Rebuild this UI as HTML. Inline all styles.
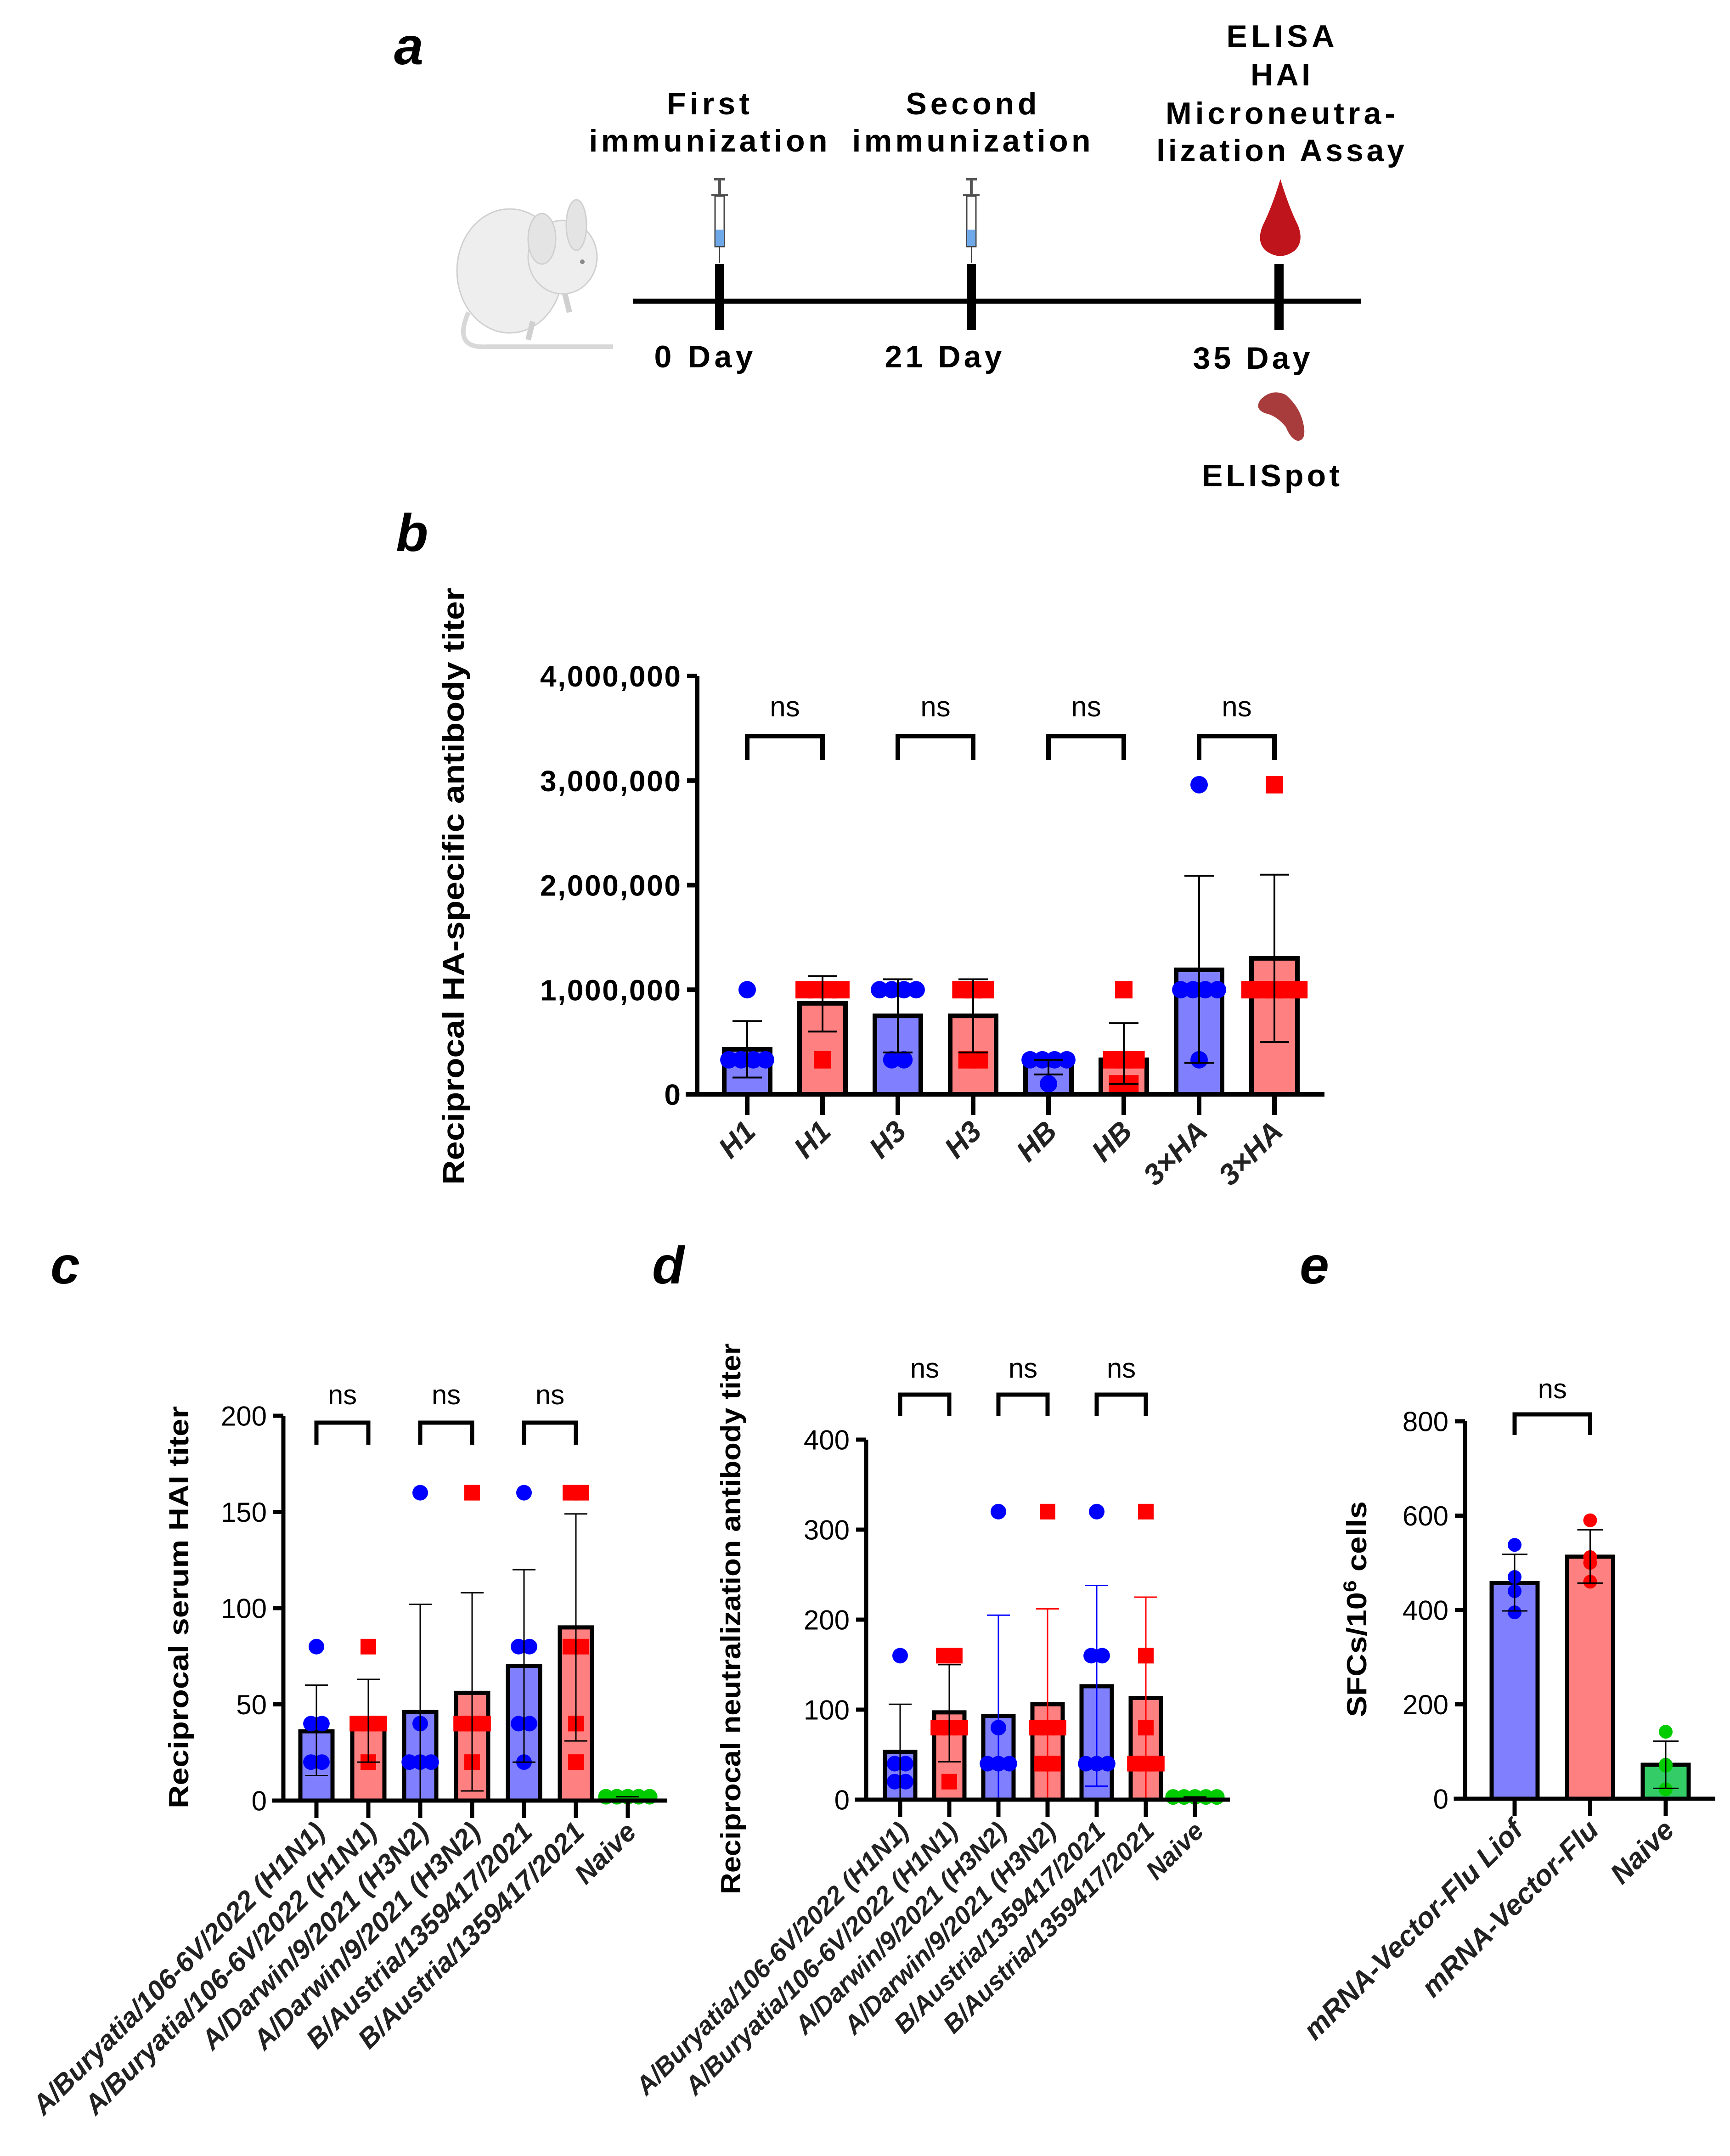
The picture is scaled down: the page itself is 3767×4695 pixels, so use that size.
<!DOCTYPE html>
<html><head><meta charset="utf-8">
<style>
html,body{margin:0;padding:0;background:#fff;}
svg{display:block;}
text{font-family:"Liberation Sans",sans-serif;}
</style></head>
<body>
<svg id="fig" xmlns="http://www.w3.org/2000/svg" width="3767" height="4695" viewBox="0 0 3767 4695">
<rect width="3767" height="4695" fill="#fff"/>
<g font-family="Liberation Serif, serif" font-weight="bold" font-style="italic" font-size="115">
<text x="858" y="140">a</text>
<text x="862" y="1200">b</text>
<text x="110" y="2795">c</text>
<text x="1420" y="2795">d</text>
<text x="2830" y="2795">e</text>
</g>
<g>
<g fill="#eeeeee" stroke="#d0d0d0" stroke-width="3">
<path d="M1020 680 Q985 760 1060 755 L1335 755" fill="none" stroke="#d8d8d8" stroke-width="10"/>
<ellipse cx="1110" cy="590" rx="115" ry="135"/>
<ellipse cx="1225" cy="560" rx="75" ry="80"/>
<ellipse cx="1255" cy="490" rx="22" ry="55" fill="#e4e4e4"/>
<ellipse cx="1180" cy="520" rx="30" ry="55" fill="#e4e4e4"/>
<circle cx="1268" cy="570" r="5" fill="#888" stroke="none"/>
<path d="M1160 700 L1150 740 M1230 640 L1240 680" stroke="#d0d0d0" stroke-width="12"/>
</g>
<line x1="1378" y1="656" x2="2963" y2="656" stroke="#000" stroke-width="11"/>
<line x1="1567" y1="575" x2="1567" y2="719" stroke="#000" stroke-width="20"/>
<line x1="2115" y1="575" x2="2115" y2="719" stroke="#000" stroke-width="20"/>
<line x1="2785" y1="575" x2="2785" y2="719" stroke="#000" stroke-width="20"/>
<g transform="translate(1567,0)">
<rect x="-12" y="388" width="24" height="5" fill="#555"/><rect x="-3" y="393" width="6" height="30" fill="#555"/>
<rect x="-18" y="422" width="36" height="5" fill="#555"/>
<rect x="-10" y="427" width="20" height="110" fill="#fff" stroke="#444" stroke-width="3"/>
<rect x="-9" y="500" width="18" height="36" fill="#6fa8e8"/>
<line x1="0" y1="537" x2="0" y2="572" stroke="#444" stroke-width="2"/></g>
<g transform="translate(2115,0)">
<rect x="-12" y="388" width="24" height="5" fill="#555"/><rect x="-3" y="393" width="6" height="30" fill="#555"/>
<rect x="-18" y="422" width="36" height="5" fill="#555"/>
<rect x="-10" y="427" width="20" height="110" fill="#fff" stroke="#444" stroke-width="3"/>
<rect x="-9" y="500" width="18" height="36" fill="#6fa8e8"/>
<line x1="0" y1="537" x2="0" y2="572" stroke="#444" stroke-width="2"/></g>
<path d="M2788 390 Q2770 450 2750 490 Q2735 525 2755 545 Q2788 570 2820 545 Q2840 525 2826 490 Q2806 450 2788 390 Z" fill="#c0141c"/>
<path d="M2745 870 Q2770 845 2800 860 Q2835 890 2840 935 Q2842 960 2825 960 Q2810 955 2800 930 Q2780 905 2755 900 Q2730 890 2745 870 Z" fill="#a83c3c"/>
<g font-weight="bold" font-size="68" text-anchor="middle" fill="#000">
<text><tspan x="1542" y="249" textLength="180">First</tspan><tspan x="1542" y="330" textLength="519">immunization</tspan></text>
<text><tspan x="2115" y="249" textLength="285">Second</tspan><tspan x="2115" y="330" textLength="519">immunization</tspan></text>
<text><tspan x="2788" y="102" textLength="235">ELISA</tspan><tspan x="2788" y="186" textLength="130">HAI</tspan><tspan x="2788" y="270" textLength="500">Microneutra-</tspan><tspan x="2788" y="351" textLength="540">lization Assay</tspan></text>
<text x="1532" y="800" textLength="215">0 Day</text>
<text x="2054" y="800" textLength="255">21 Day</text>
<text x="2725" y="803" textLength="255">35 Day</text>
<text x="2767" y="1059" textLength="300">ELISpot</text>
</g>
</g>
<g id="charts"></g>
</svg>
<script>
const bCategories = ['H1','H1','H3','H3','HB','HB','3×HA','3×HA'];
const bGroups = ['b','r','b','r','b','r','b','r'];
const bMeans = [430000, 870000, 750000, 750000, 320000, 330000, 1190000, 1300000];
const bUpper = [700000, 1130000, 1100000, 1100000, 330000, 680000, 2090000, 2100000];
const bLower = [160000, 600000, 400000, 400000, 190000, 100000, 300000, 500000];
const bPoints = [
  [1000000, 330000, 330000, 330000, 330000],
  [1000000, 1000000, 1000000, 1000000, 330000],
  [1000000, 1000000, 1000000, 1000000, 330000, 330000],
  [1000000, 1000000, 1000000, 330000, 330000],
  [330000, 330000, 330000, 330000, 100000],
  [1000000, 330000, 330000, 330000, 100000, 100000],
  [2960000, 1000000, 1000000, 1000000, 1000000, 330000],
  [2960000, 1000000, 1000000, 1000000, 1000000, 1000000]
];
const bTicks = [0, 1000000, 2000000, 3000000, 4000000];
const bTickLabels = ['0', '1,000,000', '2,000,000', '3,000,000', '4,000,000'];
const bPairs = [[0,1],[2,3],[4,5],[6,7]];

const cCategories = ['A/Buryatia/106-6V/2022 (H1N1)','A/Buryatia/106-6V/2022 (H1N1)','A/Darwin/9/2021 (H3N2)','A/Darwin/9/2021 (H3N2)','B/Austria/1359417/2021','B/Austria/1359417/2021','Naive'];
const cGroups = ['b','r','b','r','b','r','g'];
const cMeans = [36, 40, 46, 56, 70, 90, 2];
const cUpper = [60, 63, 102, 108, 120, 149, 2];
const cLower = [13, 20, 0, 5, 20, 31, 2];
const cPoints = [
  [80, 40, 40, 20, 20],
  [80, 40, 40, 40, 20],
  [160, 40, 20, 20, 20],
  [160, 40, 40, 40, 20],
  [160, 80, 80, 40, 40, 20],
  [160, 160, 80, 80, 40, 20],
  [2, 2, 2, 2, 2]
];
const cTicks = [0, 50, 100, 150, 200];
const cTickLabels = ['0', '50', '100', '150', '200'];
const cPairs = [[0,1],[2,3],[4,5]];

const dCategories = cCategories.slice();
const dGroups = ['b','r','b','r','b','r','g'];
const dMeans = [53, 97, 93, 106, 126, 113, 3];
const dUpper = [106, 150, 205, 212, 238, 225, 3];
const dLower = [0, 42, 0, 0, 15, 0, 3];
const dPoints = [
  [160, 40, 40, 20, 20],
  [160, 160, 80, 80, 80, 20],
  [320, 80, 40, 40, 40],
  [320, 80, 80, 80, 40, 40],
  [320, 160, 160, 40, 40, 40],
  [320, 160, 80, 40, 40, 40],
  [3, 3, 3, 3, 3]
];
const dTicks = [0, 100, 200, 300, 400];
const dTickLabels = ['0', '100', '200', '300', '400'];
const dPairs = [[0,1],[2,3],[4,5]];

const eCategories = ['mRNA-Vector-Flu Liof','mRNA-Vector-Flu','Naive'];
const eGroups = ['b','r','g'];
const eMeans = [457, 513, 72];
const eUpper = [518, 570, 122];
const eLower = [398, 457, 22];
const ePoints = [
  [538, 470, 440, 395],
  [590, 512, 500, 460],
  [142, 72, 70, 20]
];
const eTicks = [0, 200, 400, 600, 800];
const eTickLabels = ['0', '200', '400', '600', '800'];
const ePairs = [[0,1]];

const NS = 'http://www.w3.org/2000/svg';
const root = document.getElementById('charts');
const FILL = {b:'#8080ff', r:'#ff8080', g:'#33cc66'};
const MARK = {b:'#0000ff', r:'#ff0000', g:'#00cc00'};
function mk(tag, attrs, parent){
  const e = document.createElementNS(NS, tag);
  for (const k in attrs) e.setAttribute(k, attrs[k]);
  parent.appendChild(e);
  return e;
}

function drawChart(p){
  const g = mk('g', {}, root);
  
  
  const yScale = v => p.y0 - (v / p.yMax) * (p.y0 - p.yTop);
  const xScale = i => p.x0 + p.step * i;
  p.means.forEach((m, i) => {
    const x = xScale(i), y = yScale(m);
    const r = mk('rect', {x: x - p.bw/2, y: y, width: p.bw, height: p.y0 - y, fill: FILL[p.groups[i]], stroke: '#000', 'stroke-width': p.sw}, g);
    
    
  });
  p.points.forEach((pts, i) => {
    const cx = xScale(i);
    const counts = {};
    pts.forEach(v => counts[v] = (counts[v] || 0) + 1);
    const seen = {};
    pts.forEach(v => {
      const n = counts[v]; const k = seen[v] || 0; seen[v] = k + 1;
      const off = (k - (n - 1) / 2) * p.mr * 1.4;
      const px = cx + off, py = yScale(v);
      let m;
      if (p.groups[i] === 'r' && p.squares) {
        m = mk('rect', {x: px - p.mr, y: py - p.mr, width: 2*p.mr, height: 2*p.mr, fill: MARK.r}, g);
      } else {
        m = mk('circle', {cx: px, cy: py, r: p.mr, fill: MARK[p.groups[i]]}, g);
      }
      
      
    });
  });
  p.means.forEach((m, i) => {
    const x = xScale(i);
    const col = p.errColor ? p.errColor(i) : '#000';
    const eg = mk('g', {stroke: col, 'stroke-width': p.ew}, g);
    
    
    mk('line', {x1: x, y1: yScale(p.upper[i]), x2: x, y2: yScale(p.lower[i])}, eg);
    mk('line', {x1: x - p.cap, y1: yScale(p.upper[i]), x2: x + p.cap, y2: yScale(p.upper[i])}, eg);
    mk('line', {x1: x - p.cap, y1: yScale(p.lower[i]), x2: x + p.cap, y2: yScale(p.lower[i])}, eg);
  });
  const ya = mk('line', {x1: p.axisX, y1: p.y0 + p.sw/2, x2: p.axisX, y2: p.yTop, stroke: '#000', 'stroke-width': p.sw}, g);
  
  
  const xa = mk('line', {x1: p.axisX - p.sw/2 - 20, y1: p.y0, x2: p.xEnd, y2: p.y0, stroke: '#000', 'stroke-width': p.sw}, g);
  
  
  p.ticks.forEach((t, k) => {
    const y = yScale(t);
    mk('line', {x1: p.axisX - 22, y1: y, x2: p.axisX, y2: y, stroke: '#000', 'stroke-width': p.sw}, g);
    const tl = mk('text', {x: p.axisX - 36, y: y + p.tfs*0.36, 'text-anchor': 'end', 'font-size': p.tfs, 'font-weight': p.tickBold ? 'bold' : 'normal'}, g);
    if (p.tickLen) tl.setAttribute('textLength', p.tickLen * p.tickLabels[k].length);
    tl.textContent = p.tickLabels[k];
    
    
  });
  p.cats.forEach((c, i) => {
    const x = xScale(i);
    mk('line', {x1: x, y1: p.y0, x2: x, y2: p.y0 + p.xtl, stroke: '#000', 'stroke-width': p.sw}, g);
    const lx = x + p.lxOff, ly = p.y0 + p.lyOff;
    const t = mk('text', {x: lx, y: ly, 'text-anchor': 'end', 'font-size': p.xfs, 'font-weight': 'bold', 'font-style': 'italic', fill: '#222', transform: 'rotate(-45 ' + lx + ' ' + ly + ')'}, g);
    t.textContent = c;
    
    
  });
  p.pairs.forEach(pr => {
    const xa1 = xScale(pr[0]), xb1 = xScale(pr[1]);
    const br = mk('path', {d: 'M' + xa1 + ' ' + p.brLeg + ' V' + p.brTop + ' H' + xb1 + ' V' + p.brLeg, fill: 'none', stroke: '#000', 'stroke-width': p.sw}, g);
    
    
    const ns = mk('text', {x: (xa1 + xb1)/2, y: p.nsY, 'text-anchor': 'middle', 'font-size': p.nsfs}, g);
    ns.textContent = 'ns';
    
    
  });
  const tt = mk('text', {x: p.titleX, y: p.titleY, 'text-anchor': 'middle', 'font-size': p.titleFs, 'font-weight': 'bold', transform: 'rotate(-90 ' + p.titleX + ' ' + p.titleY + ')', textLength: p.titleLen, lengthAdjust: 'spacingAndGlyphs'}, g);
  
  
  if (p.titleHtml) p.titleHtml(tt); else tt.textContent = p.title;
}

drawChart({name:'chart-b-ha-titer', cats:bCategories, groups:bGroups, means:bMeans, upper:bUpper, lower:bLower, points:bPoints,
  ticks:bTicks, tickLabels:bTickLabels, pairs:bPairs, yMax:4000000, y0:2383, yTop:1472, axisX:1518, xEnd:2884,
  x0:1627, step:164, bw:100, sw:10, mr:19, squares:true, ew:4, cap:32, tfs:64, tickBold:true, tickLen:34,
  xtl:45, lxOff:22, lyOff:85, xfs:64, brTop:1603, brLeg:1655, nsY:1560, nsfs:62,
  titleX:1010, titleY:1930, titleFs:66, titleLen:1300, title:'Reciprocal HA-specific antibody titer'});

drawChart({name:'chart-c-hai-titer', cats:cCategories, groups:cGroups, means:cMeans, upper:cUpper, lower:cLower, points:cPoints,
  ticks:cTicks, tickLabels:cTickLabels, pairs:cPairs, yMax:200, y0:3921, yTop:3083, axisX:617, xEnd:1453,
  x0:689, step:113, bw:70, sw:9, mr:17, squares:true, ew:3, cap:25, tfs:60, tickBold:false, tickLen:0,
  xtl:38, lxOff:22, lyOff:72, xfs:60, brTop:3098, brLeg:3146, nsY:3058, nsfs:60,
  titleX:410, titleY:3500, titleFs:60, titleLen:876, title:'Reciprocal serum HAI titer'});

drawChart({name:'chart-d-neutralization-titer', cats:dCategories, groups:dGroups, means:dMeans, upper:dUpper, lower:dLower, points:dPoints,
  ticks:dTicks, tickLabels:dTickLabels, pairs:dPairs, yMax:400, y0:3919, yTop:3135, axisX:1886, xEnd:2678,
  x0:1960, step:107, bw:66, sw:9, mr:17, squares:true, ew:3, cap:25, tfs:60, tickBold:false, tickLen:0,
  xtl:38, lxOff:22, lyOff:72, xfs:56, brTop:3037, brLeg:3083, nsY:3000, nsfs:60,
  errColor: i => (i >= 2 && i <= 5) ? (i % 2 === 0 ? '#0000ff' : '#ff0000') : '#000',
  titleX:1612, titleY:3525, titleFs:60, titleLen:1200, title:'Reciprocal neutralization antibody titer'});

drawChart({name:'chart-e-elispot', cats:eCategories, groups:eGroups, means:eMeans, upper:eUpper, lower:eLower, points:ePoints,
  ticks:eTicks, tickLabels:eTickLabels, pairs:ePairs, yMax:800, y0:3917, yTop:3095, axisX:3190, xEnd:3735,
  x0:3298, step:164.5, bw:100, sw:9, mr:15, squares:false, ew:3, cap:28, tfs:60, tickBold:false, tickLen:0,
  xtl:38, lxOff:22, lyOff:72, xfs:62, brTop:3080, brLeg:3125, nsY:3045, nsfs:60,
  titleX:2975, titleY:3504, titleFs:60, titleLen:470,
  titleHtml: function(t){ t.textContent = 'SFCs/10'; const s = document.createElementNS(NS,'tspan'); s.setAttribute('dy','-22'); s.setAttribute('font-size','40'); s.textContent='6'; t.appendChild(s); const s2 = document.createElementNS(NS,'tspan'); s2.setAttribute('dy','22'); s2.textContent=' cells'; t.appendChild(s2); }});
</script>
</body></html>
